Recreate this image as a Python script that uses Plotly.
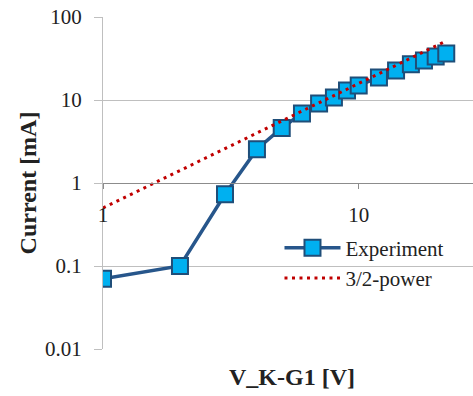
import plotly.graph_objects as go

voltage = [1, 2, 3, 4, 5, 6, 7, 8, 9, 10, 12, 14, 16, 18, 20, 22]
current_exp = [0.07, 0.1, 0.73, 2.55, 4.6, 6.9, 9.1, 10.7, 13.0, 15.0, 18.7, 22.7, 27.0, 30.0, 33.5, 36.4]
current_fit = [0.5, 1.41, 2.6, 4.0, 5.59, 7.35, 9.26, 11.3, 13.5, 15.8, 20.8, 26.2, 32.0, 38.2, 44.7, 51.6]

y_tickvals = [0.01, 0.1, 1, 10, 100]
y_ticktext = ["0.01", "0.1", "1", "10", "100"]
x_tickvals = [1, 10]
x_ticktext = ["1", "10"]

FONT = "Liberation Serif"

fig = go.Figure()
fig.add_trace(go.Scatter(
    x=voltage, y=current_exp, name="Experiment", mode="lines+markers",
    legendgroup="a",
    line=dict(color="#27568B", width=3.5),
    marker=dict(symbol="square", size=16, color="#00B0F0",
                line=dict(color="#1F4E79", width=2)),
))
fig.add_trace(go.Scatter(
    x=voltage, y=current_fit, name="3/2-power", mode="lines",
    legendgroup="b",
    line=dict(color="#C00000", width=3, dash="3px,4.5px"),
))

fig.update_layout(
    width=473, height=396,
    margin=dict(l=102.5, r=0, t=16.7, b=46.7),
    paper_bgcolor="white", plot_bgcolor="white",
    font=dict(family=FONT, size=21, color="#222222"),
    showlegend=True,
    legend=dict(x=0.477, y=0.366, xanchor="left", yanchor="top",
                bgcolor="rgba(0,0,0,0)", font=dict(size=21, family=FONT, color="#222222"),
                itemwidth=56, traceorder="grouped", tracegroupgap=0),
    xaxis=dict(
        type="log", range=[0, 1.447], anchor="free", position=0.5,
        showgrid=False, zeroline=False, showline=True, linecolor="#8C8C8C", linewidth=1.2,
        ticks="outside", ticklen=5, tickcolor="#8C8C8C",
        tickvals=x_tickvals, ticktext=x_ticktext, ticklabelstandoff=8,
        tickfont=dict(size=21, family=FONT, color="#222222"),
    ),
    yaxis=dict(
        type="log", range=[-2, 2],
        showgrid=True, gridcolor="#BFBFBF", gridwidth=1, zeroline=False,
        showline=True, linecolor="#BFBFBF", linewidth=1,
        ticks="outside", ticklen=8, tickcolor="#BFBFBF",
        tickvals=y_tickvals, ticktext=y_ticktext, ticklabelstandoff=8,
        tickfont=dict(size=21, family=FONT, color="#222222"),
        title=dict(text="<b>Current [mA]</b>", font=dict(size=24, family=FONT, color="#222222"), standoff=1),
    ),
)

fig.add_annotation(
    text="<b>V_K-G1 [V]</b>", xref="paper", yref="paper", x=0.51, y=-0.083,
    xanchor="center", yanchor="middle", showarrow=False,
    font=dict(size=24, family=FONT, color="#222222"),
)

fig.write_html("out.html")
